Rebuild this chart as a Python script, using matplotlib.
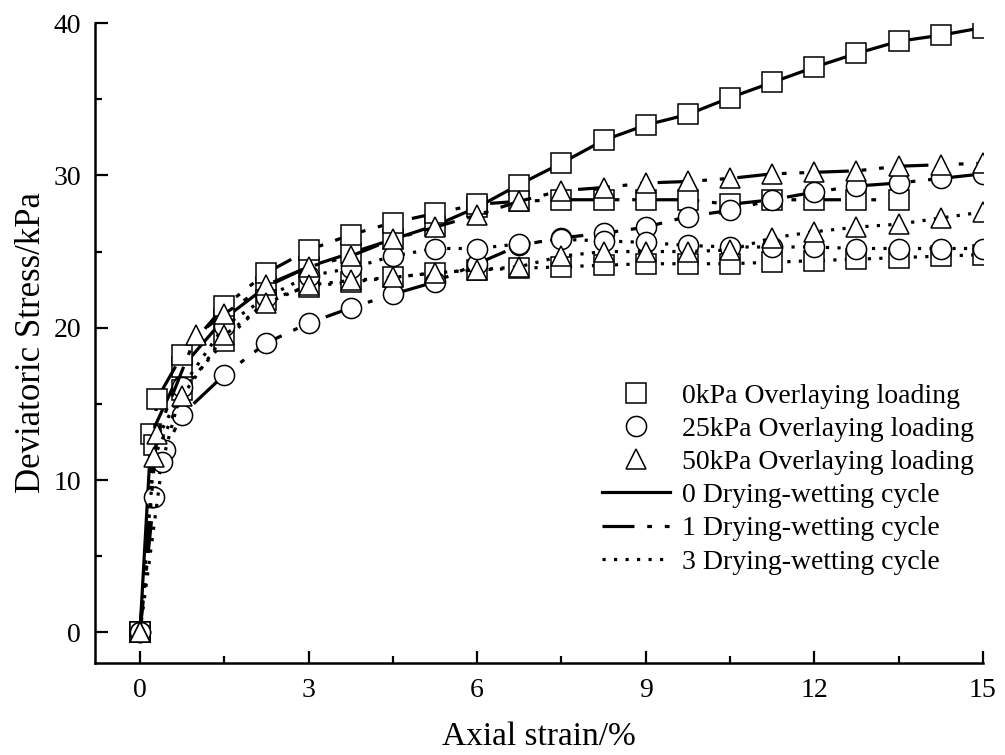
import matplotlib
matplotlib.use("Agg")
from matplotlib import pyplot as plt
from matplotlib.lines import Line2D
from matplotlib.ticker import MultipleLocator

plt.rcParams['font.family'] = ['Liberation Serif', 'DejaVu Serif']

##### Data: axial strain (%) vs deviatoric stress (kPa)
x_grid = [0, 0.25, 0.75, 1.5, 2.25, 3.0, 3.75, 4.5, 5.25, 6.0, 6.75, 7.5,
          8.25, 9.0, 9.75, 10.5, 11.25, 12.0, 12.75, 13.5, 14.25, 15.0]

# 0kPa overlaying loading
sq0_x = [0, 0.2, 0.75, 1.5, 2.25, 3.0, 3.75, 4.5, 5.25, 6.0, 6.75, 7.5,
         8.25, 9.0, 9.75, 10.5, 11.25, 12.0, 12.75, 13.5, 14.25, 15.0]
sq0_y = [0, 13.0, 17.4, 20.6, 22.7, 24.0, 24.9, 25.8, 26.7, 27.9, 29.4, 30.8,
         32.3, 33.3, 34.0, 35.1, 36.1, 37.1, 38.0, 38.8, 39.2, 39.7]
sq1_x = [0, 0.3, 0.75, 1.5, 2.25, 3.0, 3.75, 4.5, 5.25, 6.0, 6.75, 7.5,
         8.25, 9.0, 9.75, 10.5, 11.25, 12.0, 12.75, 13.5]
sq1_y = [0, 15.3, 18.2, 21.4, 23.6, 25.1, 26.1, 26.9, 27.5, 28.1, 28.3, 28.4,
         28.4, 28.4, 28.4, 28.1, 28.4, 28.4, 28.4, 28.4]
sq3_y = [0, 12.3, 15.9, 19.1, 21.8, 22.7, 23.0, 23.3, 23.6, 23.8, 23.9, 24.0,
         24.1, 24.2, 24.2, 24.2, 24.3, 24.4, 24.5, 24.6, 24.7, 24.8]

# 25kPa overlaying loading
ci1_x = [0, 0.25, 0.45, 0.75, 1.5, 2.25, 3.0, 3.75, 4.5, 5.25, 6.0, 6.75, 7.5,
         8.25, 9.0, 9.75, 10.5, 11.25, 12.0, 12.75, 13.5, 14.25, 15.0]
ci1_y = [0, 8.9, 12.0, 14.3, 16.9, 19.0, 20.3, 21.3, 22.2, 23.0, 24.2, 25.4, 25.9,
         26.2, 26.6, 27.3, 27.7, 28.4, 28.9, 29.3, 29.5, 29.8, 30.1]
ci3_x = [0, 0.4, 0.75, 1.5, 2.25, 3.0, 3.75, 4.5, 5.25, 6.0, 6.75, 7.5,
         8.25, 9.0, 9.75, 10.5, 11.25, 12.0, 12.75, 13.5, 14.25, 15.0]
ci3_y = [0, 11.2, 16.1, 20.1, 22.0, 23.4, 23.9, 24.7, 25.2, 25.2, 25.5, 25.8,
         25.7, 25.6, 25.4, 25.3, 25.3, 25.3, 25.2, 25.2, 25.2, 25.2]

# 50kPa overlaying loading
tr1_x = [0, 0.3, 1.0, 1.5, 2.25, 3.0, 3.75, 4.5, 5.25, 6.0, 6.75, 7.5,
         8.25, 9.0, 9.75, 10.5, 11.25, 12.0, 12.75, 13.5, 14.25, 15.0]
tr1_y = [0, 13.0, 19.5, 20.9, 22.8, 24.0, 24.7, 25.8, 26.6, 27.4, 28.3, 29.0,
         29.2, 29.5, 29.6, 29.8, 30.1, 30.2, 30.3, 30.6, 30.7, 30.8]
tr3_y = [0, 11.5, 15.5, 19.5, 21.6, 22.8, 23.1, 23.3, 23.6, 23.8, 24.0, 24.7,
         25.0, 25.0, 25.0, 25.1, 25.9, 26.3, 26.6, 26.8, 27.2, 27.6]

load_labels = ["0kPa Overlaying loading", "25kPa Overlaying loading",
               "50kPa Overlaying loading"]
cycle_labels = ["0 Drying-wetting cycle", "1 Drying-wetting cycle",
                "3 Drying-wetting cycle"]

LW = 2.3
MS = 14.5
STYLES = ['-', (0, (10, 4, 1.5, 4, 1.5, 4)), (0, (1, 2.6))]


def curve(ax, x, y, marker, style):
    ax.plot(x, y, color='k', lw=LW, linestyle=STYLES[style], marker=marker,
            ms=MS, mfc='white', mec='k', mew=1.1)


fig = plt.figure(figsize=(10.05, 7.55), dpi=100)
ax = fig.add_axes([0.0945, 0.122, 0.8835, 0.8475])

curve(ax, sq0_x, sq0_y, 's', 0)
curve(ax, sq1_x, sq1_y, 's', 1)
curve(ax, x_grid, sq3_y, 's', 2)
curve(ax, ci1_x, ci1_y, 'o', 1)
curve(ax, ci3_x, ci3_y, 'o', 2)
curve(ax, tr1_x, tr1_y, '^', 1)
curve(ax, x_grid, tr3_y, '^', 2)

ax.set_xlim(-0.8, 15)
ax.set_ylim(-2, 40)
ax.xaxis.set_major_locator(MultipleLocator(3))
ax.xaxis.set_minor_locator(MultipleLocator(1.5))
ax.yaxis.set_major_locator(MultipleLocator(10))
ax.yaxis.set_minor_locator(MultipleLocator(5))
ax.tick_params(which='both', direction='in', width=1.6, labelsize=20)
ax.tick_params(which='major', length=9)
ax.tick_params(which='minor', length=5)
ax.tick_params(axis='x', pad=11)
ax.tick_params(axis='y', pad=10)
for side in ['top', 'right']:
    ax.spines[side].set_visible(False)
for side in ['left', 'bottom']:
    ax.spines[side].set_linewidth(1.8)

ax.set_xlabel('Axial strain/%', fontsize=24, labelpad=13)
ax.set_ylabel('Deviatoric Stress/kPa', fontsize=25, labelpad=4)

handles = [Line2D([], [], ls='none', marker=m, ms=MS, mfc='white', mec='k', mew=1.1)
           for m in ['s', 'o', '^']]
handles += [Line2D([], [], color='k', lw=LW, linestyle=s) for s in STYLES]
fig.legend(handles, load_labels + cycle_labels, loc='upper left',
           bbox_to_anchor=(0.585, 0.511), frameon=False, fontsize=20,
           borderpad=0, labelspacing=0.28, handlelength=2.45,
           handletextpad=0.43, numpoints=1)

fig.savefig('out.png', dpi=100)
